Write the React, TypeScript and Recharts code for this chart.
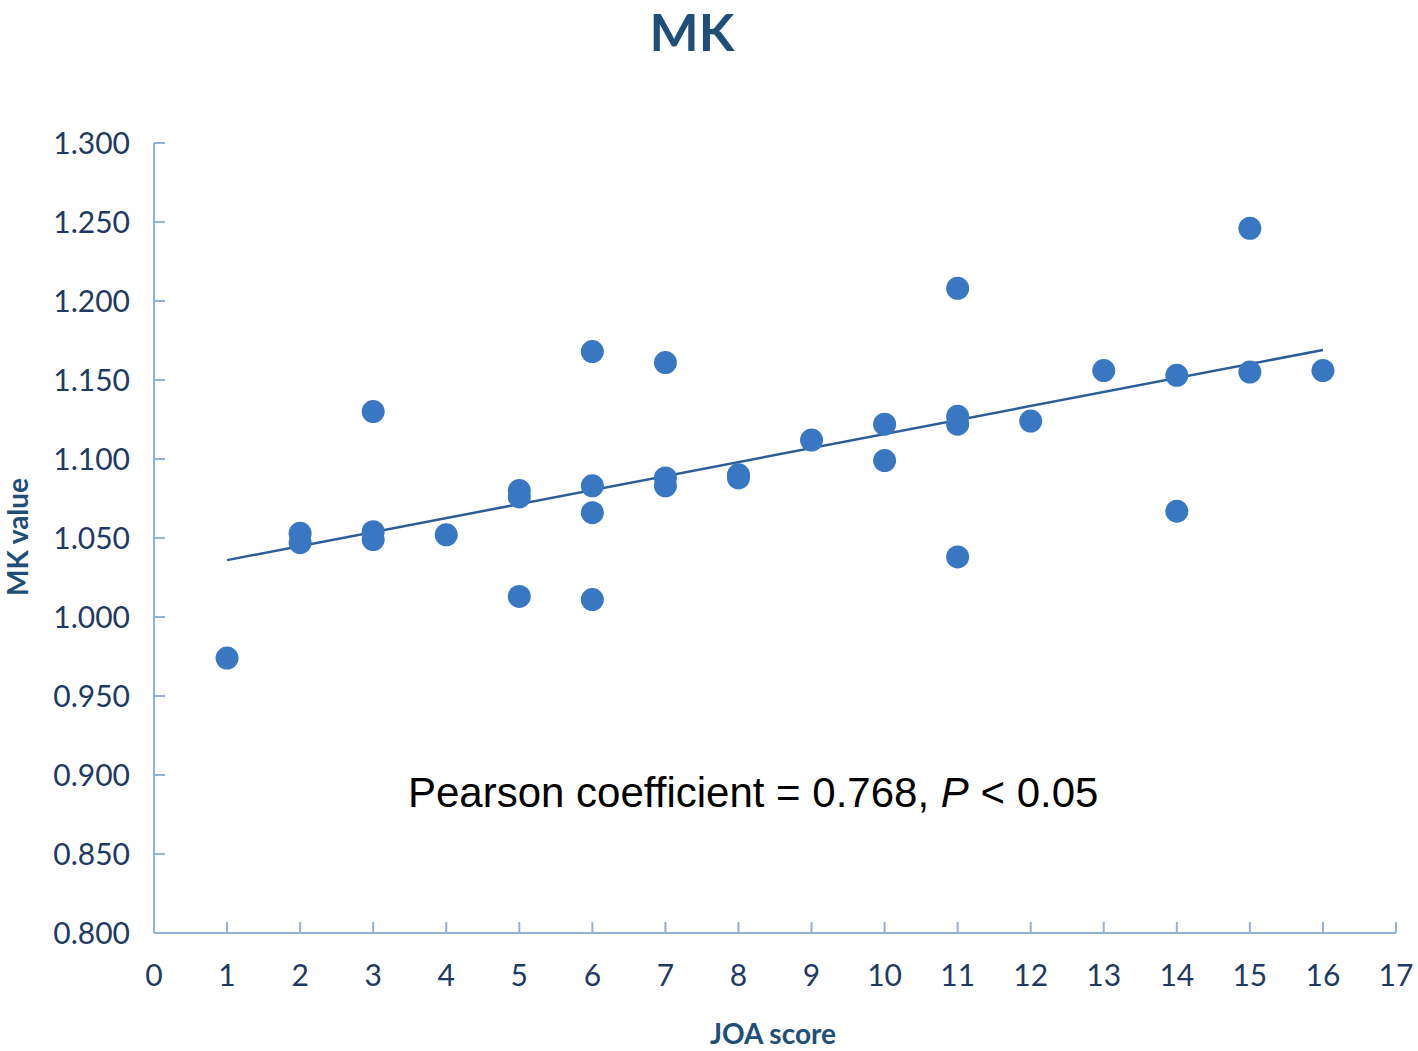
import React from 'react'
import { ScatterChart, Scatter, XAxis, YAxis } from 'recharts'

// JOA score (x) vs MK value (y)
const joaScores = [1, 2, 2, 3, 3, 3, 4, 5, 5, 5, 6, 6, 6, 6, 7, 7, 7, 8, 8, 9, 10, 10, 11, 11, 11, 11, 12, 13, 14, 14, 15, 15, 16]
const mkValues = [
    0.974, 1.053, 1.047, 1.130, 1.054, 1.049, 1.052, 1.080, 1.076, 1.013, 1.168, 1.083, 1.066, 1.011, 1.161, 1.088, 1.083,
    1.090, 1.088, 1.112, 1.122, 1.099, 1.208, 1.127, 1.122, 1.038, 1.124, 1.156, 1.153, 1.067, 1.246, 1.155, 1.156,
]

// regression line end points
const trendX = [1, 16]
const trendY = [1.036, 1.169]

const xTicks = [0, 1, 2, 3, 4, 5, 6, 7, 8, 9, 10, 11, 12, 13, 14, 15, 16, 17]
const yTicks = [0.8, 0.85, 0.9, 0.95, 1.0, 1.05, 1.1, 1.15, 1.2, 1.25, 1.3]

const points = joaScores.map((x, i) => ({ x, y: mkValues[i] }))
const trend = trendX.map((x, i) => ({ x, y: trendY[i] }))

const AXIS = '#94b1d9'
const NAVY = '#1f3a64'
const TITLE = '#1f4e79'
const DOT = '#3a77c2'
const LINE = '#2d5c98'
const FONT = 'Lato, "Open Sans", sans-serif'

const X_MARGIN = 32
const Y_MARGIN = 24

const XTick = ({ x, y, payload }: any) => (
    <g>
        {payload.value > 0 && (
            <line x1={x} x2={x} y1={y - X_MARGIN} y2={y - X_MARGIN - 11} stroke={AXIS} strokeWidth={2} />
        )}
        <text x={x} y={y} dy="0.71em" textAnchor="middle" fill={NAVY} fontSize={30} fontFamily={FONT}>
            {payload.value}
        </text>
    </g>
)

const YTick = ({ x, y, payload }: any) => (
    <g>
        {payload.value > 0.8 && (
            <line x1={x + Y_MARGIN} x2={x + Y_MARGIN + 11} y1={y} y2={y} stroke={AXIS} strokeWidth={2} />
        )}
        <text x={x} y={y} dy="0.355em" textAnchor="end" fill={NAVY} fontSize={30} fontFamily={FONT}>
            {Number(payload.value).toFixed(3)}
        </text>
    </g>
)

const Dot = ({ cx, cy }: any) => <circle cx={cx} cy={cy} r={11.5} fill={DOT} />

export default function App() {
    return (
        <div style={{ position: 'absolute', left: 0, top: 0, width: 1418, height: 1051, background: '#fff', fontFamily: FONT }}>
            <div
                style={{
                    position: 'absolute', left: 0, width: 1384, top: 0, textAlign: 'center',
                    fontSize: 52, fontWeight: 700, color: TITLE,
                }}
            >
                MK
            </div>
            <div
                style={{
                    position: 'absolute', left: 17, top: 537, transform: 'translate(-50%, -50%) rotate(-90deg)',
                    fontSize: 28, fontWeight: 700, color: TITLE, whiteSpace: 'nowrap',
                }}
            >
                MK value
            </div>
            <div
                style={{
                    position: 'absolute', left: 773, top: 1016, transform: 'translateX(-50%)',
                    fontSize: 28, fontWeight: 700, color: TITLE, whiteSpace: 'nowrap',
                }}
            >
                JOA score
            </div>
            <ScatterChart width={1418} height={1051} margin={{ top: 143, right: 22, bottom: 58, left: 54 }}>
                <XAxis
                    type="number"
                    dataKey="x"
                    domain={[0, 17]}
                    ticks={xTicks}
                    interval={0}
                    height={60}
                    stroke={AXIS}
                    strokeWidth={2}
                    tickLine={false}
                    tickSize={0}
                    tickMargin={X_MARGIN}
                    tick={<XTick />}
                />
                <YAxis
                    type="number"
                    dataKey="y"
                    domain={[0.8, 1.3]}
                    ticks={yTicks}
                    interval={0}
                    width={100}
                    stroke={AXIS}
                    strokeWidth={2}
                    tickLine={false}
                    tickSize={0}
                    tickMargin={Y_MARGIN}
                    tick={<YTick />}
                />
                <Scatter data={trend} line={{ stroke: LINE, strokeWidth: 2.5 }} shape={() => <g />} isAnimationActive={false} />
                <Scatter data={points} shape={<Dot />} isAnimationActive={false} />
            </ScatterChart>
            <div
                style={{
                    position: 'absolute', left: 408, top: 772, fontSize: 42, color: '#000',
                    fontFamily: '"Liberation Sans", Arial, sans-serif', whiteSpace: 'nowrap', lineHeight: 1,
                }}
            >
                Pearson coefficient = 0.768, <i>P</i> &lt; 0.05
            </div>
        </div>
    )
}
